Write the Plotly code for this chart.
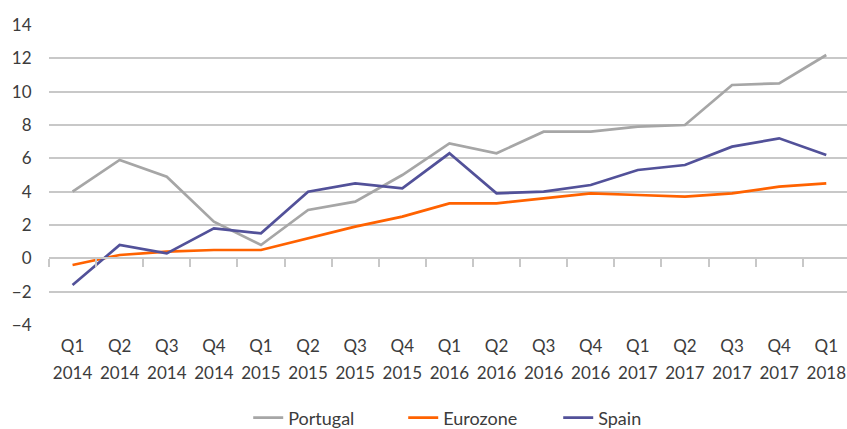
import plotly.graph_objects as go

# ── Data ───────────────────────────────────────────────────────────────────
quarters = ["Q1", "Q2", "Q3", "Q4"] * 4 + ["Q1"]
years = ["2014"] * 4 + ["2015"] * 4 + ["2016"] * 4 + ["2017"] * 4 + ["2018"]
categories = [f"{q} {y}" for q, y in zip(quarters, years)]

portugal = [4.0, 5.9, 4.9, 2.2, 0.8, 2.9, 3.4, 5.0, 6.9, 6.3, 7.6, 7.6,
            7.9, 8.0, 10.4, 10.5, 12.2]
eurozone = [-0.4, 0.2, 0.4, 0.5, 0.5, 1.2, 1.9, 2.5, 3.3, 3.3, 3.6, 3.9,
            3.8, 3.7, 3.9, 4.3, 4.5]
spain = [-1.6, 0.8, 0.3, 1.8, 1.5, 4.0, 4.5, 4.2, 6.3, 3.9, 4.0, 4.4,
         5.3, 5.6, 6.7, 7.2, 6.2]

# ── Style ──────────────────────────────────────────────────────────────────
COLORS = {
    "Portugal": "#A6A6A6",
    "Eurozone": "#FF6200",
    "Spain":    "#525199",
}
GRID = "#C8C8C8"
TEXT = "#3C3C3C"
FONT = "Lato, sans-serif"
X_RANGE = [-0.5, 16.44]

fig = go.Figure()
for name, vals in [("Portugal", portugal), ("Eurozone", eurozone), ("Spain", spain)]:
    fig.add_trace(go.Scatter(
        x=categories, y=vals, mode="lines", name=name,
        line=dict(color=COLORS[name], width=2.7),
    ))

# invisible traces so the helper axes (zero-line ticks, year row) render
for ax in ["x2", "x3"]:
    fig.add_trace(go.Scatter(
        x=categories, y=[None] * len(categories), xaxis=ax,
        showlegend=False, hoverinfo="skip",
    ))

fig.update_layout(
    width=847, height=429,
    paper_bgcolor="white", plot_bgcolor="white",
    font=dict(family=FONT, size=17, color=TEXT),
    margin=dict(l=49, r=0, t=25, b=104, autoexpand=False),
    xaxis=dict(
        type="category", range=X_RANGE, automargin=False,
        tickvals=categories, ticktext=quarters,
        showgrid=False, showline=False, zeroline=False,
        ticks="outside", ticklen=6, tickcolor="rgba(0,0,0,0)",
    ),
    xaxis3=dict(
        type="category", range=X_RANGE, overlaying="x", anchor="y",
        side="bottom", automargin=False,
        tickvals=categories, ticktext=years,
        showgrid=False, showline=False, zeroline=False,
        ticks="outside", ticklen=33, tickcolor="rgba(0,0,0,0)",
    ),
    xaxis2=dict(
        type="category", range=X_RANGE, overlaying="x",
        anchor="free", position=4 / 18, automargin=False,
        showgrid=False, showline=True, linecolor=GRID, linewidth=1.5,
        ticks="outside", tickson="boundaries", ticklen=8,
        tickcolor=GRID, tickwidth=1.5, showticklabels=False,
    ),
    yaxis=dict(
        range=[-4, 14], dtick=2, showgrid=True, gridcolor=GRID, gridwidth=1.5,
        zeroline=False, showline=False, automargin=False,
        ticks="outside", ticklen=13, tickcolor="rgba(0,0,0,0)",
    ),
    legend=dict(
        orientation="h", x=0.541, xanchor="center", y=-0.31, yanchor="middle",
        font=dict(size=18, color=TEXT), entrywidth=110,
    ),
    showlegend=True,
)

# drop the browser's default 8px body margin so the figure fills the window
fig.write_html(
    "out.html",
    config=dict(displayModeBar=False),
    post_script="document.body.style.margin = '0px';",
)
